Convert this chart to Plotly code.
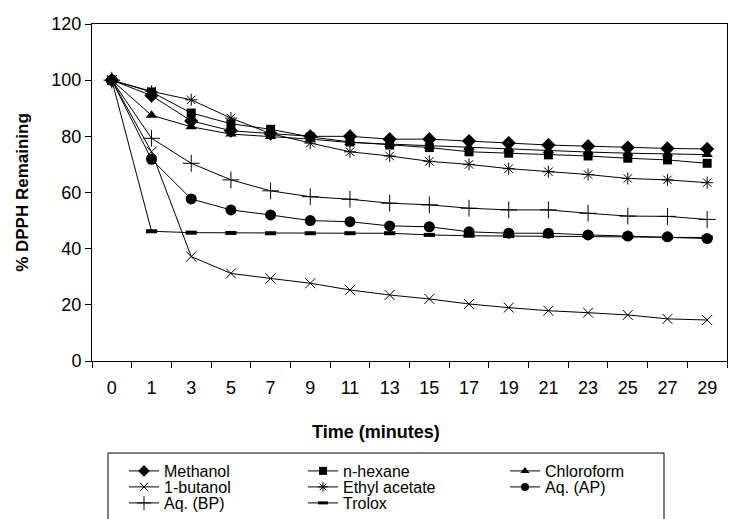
import plotly.graph_objects as go

time_labels = ["0", "1", "3", "5", "7", "9", "11", "13", "15", "17", "19", "21", "23", "25", "27", "29"]

methanol = [100, 94.5, 85.5, 82, 81, 80, 80, 79, 79, 78.3, 77.6, 76.9, 76.5, 76, 75.7, 75.5]
n_hexane = [100, 95.8, 88.3, 84.5, 82.5, 79.8, 78, 76.9, 76, 74.5, 74, 73.4, 73, 72.2, 71.6, 70.4]
chloroform = [100, 87.5, 83.4, 80.8, 79.9, 79, 77.8, 77.2, 76.6, 76, 75.5, 75, 74.4, 74, 73.8, 73.5]
butanol = [100, 74.5, 37.2, 31.2, 29.4, 27.7, 25.3, 23.5, 22.1, 20.3, 19, 17.9, 17.2, 16.4, 15, 14.6]
ethyl_acetate = [100, 96, 93, 86.5, 81, 77.6, 74.5, 73, 71.1, 70, 68.5, 67.4, 66.4, 65, 64.5, 63.5]
aq_ap = [100, 71.8, 57.7, 53.8, 52, 50, 49.6, 48.1, 47.8, 46, 45.5, 45.5, 44.9, 44.5, 44.2, 43.6]
aq_bp = [100, 79.3, 70.4, 64.5, 60.6, 58.5, 57.6, 56.2, 55.6, 54.4, 53.8, 53.8, 52.6, 51.6, 51.5, 50.4]
trolox = [100, 46.2, 45.7, 45.6, 45.5, 45.5, 45.5, 45.5, 44.9, 44.6, 44.5, 44.5, 44.5, 44.2, 44, 44]

# name, values, symbol, plot size, legend size, marker line width, legend key
series = [
    ("Methanol", methanol, "diamond", 11, 9, 0, "legend"),
    ("n-hexane", n_hexane, "square", 9, 8, 0, "legend2"),
    ("Chloroform", chloroform, "triangle-up", 10, 8, 0, "legend3"),
    ("1-butanol", butanol, "x-thin-open", 10, 8, 1, "legend4"),
    ("Ethyl acetate", ethyl_acetate, "asterisk-open", 10, 8, 1, "legend5"),
    ("Aq. (AP)", aq_ap, "circle", 11, 8, 0, "legend6"),
    ("Aq. (BP)", aq_bp, "cross-thin-open", 12, 10, 1, "legend7"),
    ("Trolox", trolox, "line-ew-open", 8, 7, 4, "legend8"),
]

fig = go.Figure()
for name, vals, sym, size, lsize, mlw, leg in series:
    fig.add_trace(go.Scatter(
        x=time_labels, y=vals, name=name, mode="lines+markers",
        line=dict(color="black", width=1),
        marker=dict(symbol=sym, size=size, color="black",
                    line=dict(color="black", width=mlw)),
        showlegend=False,
    ))
    # legend key with smaller marker (no data drawn)
    fig.add_trace(go.Scatter(
        x=[None], y=[None], name=name, mode="lines+markers",
        line=dict(color="black", width=1),
        marker=dict(symbol=sym, size=lsize, color="black",
                    line=dict(color="black", width=mlw if mlw < 4 else 3)),
        legend=leg, showlegend=True,
    ))

# plot area in pixels: x 92..727, y 24..361
def px_x(p):
    return (p - 92) / 635.0

def px_y(p):
    return (361 - p) / 337.0

col_x = [124, 303, 505]
row_y = [471, 487, 503]
positions = {
    "legend": (0, 0), "legend2": (1, 0), "legend3": (2, 0),
    "legend4": (0, 1), "legend5": (1, 1), "legend6": (2, 1),
    "legend7": (0, 2), "legend8": (1, 2),
}
legend_font = dict(family="Liberation Sans, Arial", size=16, color="black")
layout_legends = {}
for key, (c, r) in positions.items():
    layout_legends[key] = dict(
        x=px_x(col_x[c]), y=px_y(row_y[r]), xanchor="left", yanchor="middle",
        orientation="v", font=legend_font, bgcolor="rgba(0,0,0,0)",
        borderwidth=0, itemwidth=30,
    )

fig.update_layout(
    width=730, height=519,
    margin=dict(l=92, r=3, t=24, b=158, autoexpand=False),
    paper_bgcolor="white", plot_bgcolor="white",
    font=dict(family="Liberation Sans, Arial", size=18, color="black"),
    showlegend=True,
    **layout_legends,
)

fig.update_xaxes(
    type="category", range=[-0.5, 15.5], automargin=False,
    showline=True, linecolor="black", linewidth=1, mirror=True,
    ticks="outside", ticklen=6, tickcolor="black", tickson="boundaries",
    showgrid=False, tickfont=dict(size=18), ticklabelstandoff=10,
)
fig.update_yaxes(
    range=[0, 120], dtick=20, automargin=False,
    showline=True, linecolor="black", linewidth=1, mirror=True,
    ticks="outside", ticklen=6, tickcolor="black",
    showgrid=False, zeroline=False, tickfont=dict(size=18),
    title=dict(text="<b>% DPPH Remaining</b>", font=dict(size=17), standoff=18),
)

fig.add_annotation(
    text="<b>Time (minutes)</b>", xref="paper", yref="paper",
    x=px_x(376), y=px_y(432), xanchor="center", yanchor="middle",
    showarrow=False, font=dict(size=18, color="black"),
)

fig.add_shape(
    type="rect", xref="paper", yref="paper",
    x0=px_x(108), x1=px_x(664), y0=px_y(530), y1=px_y(453),
    line=dict(color="black", width=1), fillcolor="rgba(0,0,0,0)",
)

fig.write_html("out.html")
